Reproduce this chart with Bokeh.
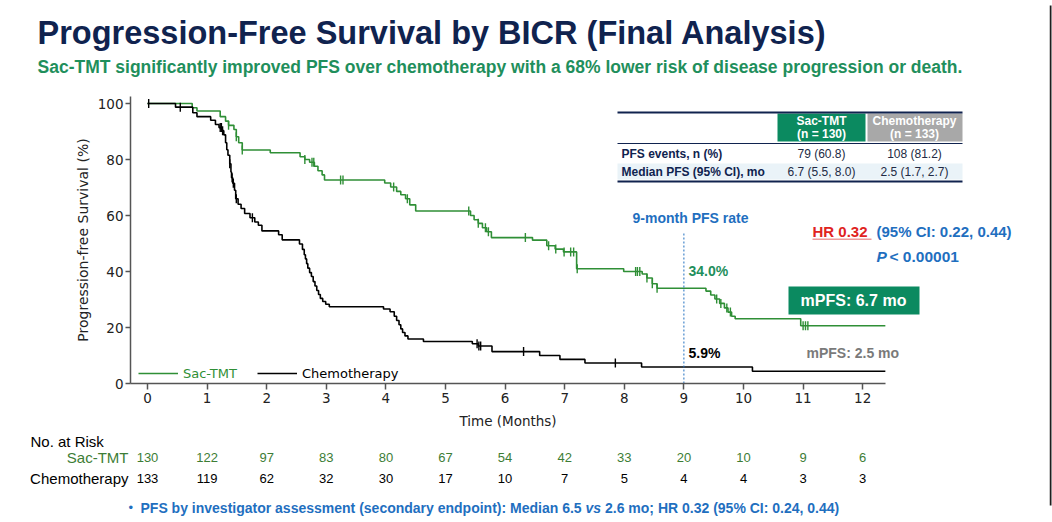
import numpy as np
from bokeh.plotting import figure
from bokeh.layouts import column, row
from bokeh.models import (Label, BoxAnnotation, Legend, LegendItem, Range1d, FixedTicker)
from bokeh.embed import file_html
from bokeh.resources import INLINE
from bokeh.core.properties import value

# ---------------- data ----------------
sac_t = [0.0, 0.75, 0.83, 1.22, 1.31, 1.36, 1.45, 1.49, 1.53, 1.59, 2.06, 2.56,
         2.64, 2.72, 2.80, 2.86, 2.93, 2.97, 3.98, 4.08, 4.18, 4.25, 4.33, 4.40,
         4.50, 5.42, 5.48, 5.55, 5.62, 5.69, 5.77, 6.46, 6.70, 6.84, 6.98, 7.20,
         7.99, 8.30, 8.38, 8.47, 8.55, 9.37, 9.45, 9.52, 9.60, 9.68, 9.74, 9.80,
         9.86, 10.96]
sac_s = [100.0, 98.5, 97.3, 95.3, 93.7, 92.2, 90.7, 88.1, 86.0, 83.4, 82.4, 81.0,
         80.0, 79.0, 77.6, 76.0, 74.5, 72.7, 71.6, 70.2, 68.6, 67.4, 66.0, 63.8,
         61.6, 60.0, 58.5, 57.2, 55.6, 54.2, 52.1, 51.2, 49.2, 48.0, 47.0, 41.0,
         40.0, 39.1, 37.7, 35.6, 34.0, 33.0, 31.6, 30.2, 28.6, 27.0, 25.5, 24.0,
         23.1, 20.6]
chemo_t = [0.0, 0.47, 0.76, 0.83, 1.06, 1.14, 1.20, 1.25, 1.28, 1.31, 1.33, 1.35,
           1.38, 1.40, 1.41, 1.43, 1.46, 1.48, 1.52, 1.57, 1.63, 1.72, 1.80, 1.86,
           1.92, 2.20, 2.26, 2.55, 2.60, 2.63, 2.65, 2.67, 2.69, 2.72, 2.75, 2.78,
           2.81, 2.84, 2.87, 2.90, 2.94, 2.99, 3.05, 3.96, 4.07, 4.14, 4.18, 4.22,
           4.25, 4.28, 4.32, 4.37, 4.63, 5.45, 5.55, 5.78, 6.58, 6.92, 7.34, 8.29,
           10.15]
chemo_s = [100.0, 98.7, 96.7, 95.3, 94.0, 92.5, 91.4, 90.3, 88.8, 86.0, 83.5, 81.5,
           78.5, 75.5, 73.5, 71.5, 69.0, 66.0, 64.0, 62.5, 60.7, 59.2, 57.7, 56.5,
           54.5, 53.1, 51.3, 49.8, 47.9, 46.0, 44.5, 42.8, 41.2, 39.6, 38.2, 36.4,
           34.8, 33.2, 31.8, 30.4, 29.3, 28.3, 27.4, 26.6, 25.6, 24.0, 22.5, 21.0,
           19.5, 18.2, 17.0, 15.9, 15.0, 14.2, 13.4, 11.4, 10.0, 8.6, 7.3, 5.9,
           4.4]
follow_up_end = 12.38

sac_censor = [1.36, 1.49, 1.59, 2.64, 2.76, 2.79, 3.24, 3.28, 4.13, 4.36, 5.39,
              5.55, 5.67, 5.72, 6.34, 6.73, 6.85, 6.99, 7.10, 7.15, 7.21, 8.19,
              8.22, 8.26, 8.38, 8.47, 8.55, 9.55, 9.62, 9.72, 9.78, 11.00, 11.04,
              11.08]
chemo_censor = [0.02, 0.55, 1.22, 1.24, 1.26, 1.38, 1.42, 1.44, 1.49, 1.76, 5.53,
                5.56, 5.59, 6.31, 7.85]

months = list(range(13))
risk_sac = [130, 122, 97, 83, 80, 67, 54, 42, 33, 20, 10, 9, 6]
risk_chemo = [133, 119, 62, 32, 30, 17, 10, 7, 5, 4, 4, 3, 3]
y_ticks = [0, 20, 40, 60, 80, 100]

landmark_month = 9
landmark_top = 53.9
landmark_sac = "34.0%"
landmark_chemo = "5.9%"

table_rows = ["PFS events, n (%)", "Median PFS (95% CI), mo"]
table_sac = ["79 (60.8)", "6.7 (5.5, 8.0)"]
table_chemo = ["108 (81.2)", "2.5 (1.7, 2.7)"]

# ---------------- colours ----------------
GREEN = "#2f8f36"
GREEN_TXT = "#1f8f5c"
TEAL = "#0b8a60"
NAVY = "#10234f"
BLUE = "#1f6fbf"
RED = "#e0231e"
RISK_GREEN = "#3d7d35"
EDGE = "#1e1e1e"

W, H = 1052, 522
EDGE_W = 3            # thin slide-edge strip at the right
WM = W - EDGE_W       # width of the main column
# layout geometry (canvas px)
TOP_H = 96            # header band
L = 130               # left edge of plot frame
B = 383               # bottom edge of plot frame
AX_H = 28             # tick band below the frame
MAIN_H = B - TOP_H + AX_H
BOT_TOP = TOP_H + MAIN_H
BOT_H = H - BOT_TOP
X0_PX = 147.0         # canvas x of month 0
PX_PER_MONTH = 59.6
Y_TOP = 102.5


def screen_box(fig, x0, x1, y0, y1, color, fig_left=0, fig_bottom=0):
    fig.add_layout(BoxAnnotation(left=x0 - fig_left, right=x1 - fig_left,
                                 top=fig_bottom - y0, bottom=fig_bottom - y1,
                                 left_units="screen", right_units="screen",
                                 top_units="screen", bottom_units="screen",
                                 fill_color=color, fill_alpha=1, line_color=None,
                                 level="annotation"))


# ================= header figure =================
top = figure(width=WM, height=TOP_H, x_range=Range1d(0, WM), y_range=Range1d(TOP_H, 0),
             min_border=0, output_backend="svg", toolbar_location=None,
             frame_align=False)
top.axis.visible = False
top.grid.visible = False
top.outline_line_color = None


def tlab(px, py, text, size, color, style="bold", align="left",
         font="Liberation Sans"):
    top.add_layout(Label(x=px, y=py, text=text, text_font=font,
                         text_font_size=size, text_color=color,
                         text_font_style=style, text_align=align,
                         text_baseline="middle"))


tlab(37, 32, "Progression-Free Survival by BICR (Final Analysis)", "32.5px", NAVY)
tlab(37, 66, "Sac-TMT significantly improved PFS over chemotherapy with a 68% "
     "lower risk of disease progression or death.", "17.5px", GREEN_TXT)

# ================= main KM figure =================
x_start = (L - X0_PX) / PX_PER_MONTH
x_stop = (WM - X0_PX) / PX_PER_MONTH
p = figure(width=WM, height=MAIN_H, x_range=Range1d(x_start, x_stop),
           y_range=Range1d(0, Y_TOP), min_border_left=L, min_border_right=0,
           min_border_top=0, min_border_bottom=AX_H, output_backend="svg",
           toolbar_location=None, frame_align=False)
p.outline_line_color = None
p.xgrid.visible = False
p.ygrid.visible = False

for ax in (p.xaxis, p.yaxis):
    ax.axis_line_color = "#555555"
    ax.axis_line_width = 1.5
    ax.major_tick_line_color = "#555555"
    ax.major_tick_line_width = 1.5
    ax.minor_tick_line_color = None
    ax.major_tick_in = 0
    ax.major_label_text_font = "DejaVu Sans"
    ax.major_label_text_font_size = "13.5px"
    ax.major_label_text_color = "#222222"
    ax.axis_label_text_font = "DejaVu Sans"
    ax.axis_label_text_font_size = "14px"
    ax.axis_label_text_color = "#222222"
    ax.axis_label_text_font_style = "normal"

p.xaxis.bounds = (x_start, follow_up_end)
p.xaxis.ticker = FixedTicker(ticks=months)
p.yaxis.ticker = FixedTicker(ticks=y_ticks)
p.xaxis.major_tick_out = 6
p.yaxis.major_tick_out = 5
p.xaxis.major_label_standoff = 3
p.yaxis.major_label_standoff = 2
p.yaxis.axis_label = "Progression-free Survival (%)"
p.yaxis.axis_label_standoff = 4

r_sac = p.step(x=sac_t + [follow_up_end], y=sac_s + [sac_s[-1]], mode="after",
               line_color=GREEN, line_width=1.6)
r_chemo = p.step(x=chemo_t + [follow_up_end], y=chemo_s + [chemo_s[-1]], mode="after",
                 line_color="black", line_width=1.6)


def surv_at(times, surv, ts):
    idx = np.searchsorted(np.array(times), np.array(ts), side="right") - 1
    return list(np.array(surv)[idx])


p.scatter(x=sac_censor, y=surv_at(sac_t, sac_s, sac_censor), marker="dash",
          angle=np.pi / 2, size=9, line_color=GREEN, line_width=1.4)
p.scatter(x=chemo_censor, y=surv_at(chemo_t, chemo_s, chemo_censor), marker="dash",
          angle=np.pi / 2, size=9, line_color="black", line_width=1.4)

p.segment(x0=[landmark_month], y0=[0], x1=[landmark_month], y1=[landmark_top],
          line_color=BLUE, line_dash="2 2", line_width=1)

leg_common = dict(glyph_width=40, glyph_height=20, label_height=20, padding=0,
                  margin=0, border_line_color=None, background_fill_alpha=0,
                  label_standoff=5, label_text_font="DejaVu Sans",
                  label_text_font_size="13px")
p.add_layout(Legend(items=[LegendItem(label="Sac-TMT", renderers=[r_sac])],
                    location=(8, 0), label_text_color=GREEN, **leg_common))
p.add_layout(Legend(items=[LegendItem(label="Chemotherapy", renderers=[r_chemo])],
                    location=(127, 0), label_text_color="black", **leg_common))


def lab(px, py, text, size, color, style="bold", align="left",
        font="Liberation Sans"):
    p.add_layout(Label(x=px - L, y=B - py, x_units="screen", y_units="screen",
                       text=text, text_font=font, text_font_size=size,
                       text_color=color, text_font_style=style, text_align=align,
                       text_baseline="middle"))


def box(x0, x1, y0, y1, color):
    screen_box(p, x0, x1, y0, y1, color, L, B)


# summary table
box(617, 962, 163, 179, "#eaf3f8")
box(777, 865, 113, 141, TEAL)
box(867, 962, 113, 141, "#a8a8a8")
box(617, 962, 111, 113, NAVY)
box(617, 962, 142.5, 143.5, NAVY)
box(617, 962, 180, 182, NAVY)
lab(821, 120, "Sac-TMT", "12px", "white", align="center")
lab(821, 133, "(n = 130)", "12px", "white", align="center")
lab(914, 120, "Chemotherapy", "12px", "white", align="center")
lab(914, 133, "(n = 133)", "12px", "white", align="center")
for i, yy in enumerate([153, 171]):
    lab(621, yy, table_rows[i], "12px", NAVY)
    lab(821, yy, table_sac[i], "12px", "#222a44", style="normal", align="center")
    lab(914, yy, table_chemo[i], "12px", "#222a44", style="normal", align="center")

lab(690, 217, "9-month PFS rate", "14px", BLUE, align="center")
lab(688, 270, landmark_sac, "14px", GREEN_TXT)
lab(688, 352, landmark_chemo, "14px", "black")

lab(812, 231, "HR 0.32", "15px", RED)
box(812, 871, 238, 239.5, "#ee9a9a")
lab(876, 231, "(95% CI: 0.22, 0.44)", "15px", BLUE)
lab(876, 256, "P", "15.5px", BLUE, style="bold italic")
lab(889, 256, "< 0.00001", "15.5px", BLUE)

box(788, 919, 286, 314, TEAL)
lab(853, 300, "mPFS: 6.7 mo", "16px", "white", align="center")
lab(806, 352, "mPFS: 2.5 mo", "14px", "#7a7a7a")

# ================= axis title, risk table, footnote =================
bot = figure(width=WM, height=BOT_H,
             x_range=Range1d(-X0_PX / PX_PER_MONTH, (WM - X0_PX) / PX_PER_MONTH),
             y_range=Range1d(BOT_H, 0), min_border=0, output_backend="svg",
             toolbar_location=None, frame_align=False)
bot.axis.visible = False
bot.grid.visible = False
bot.outline_line_color = None


def blab(px, py, text, size, color, style="normal", align="left",
         font="Liberation Sans"):
    bot.add_layout(Label(x=px, y=BOT_H - (py - BOT_TOP), x_units="screen",
                         y_units="screen", text=text, text_font=font,
                         text_font_size=size, text_color=color,
                         text_font_style=style, text_align=align,
                         text_baseline="middle"))


blab((L + 885) / 2, 420, "Time (Months)", "13.5px", "#222222", align="center",
     font="DejaVu Sans")
blab(30, 441, "No. at Risk", "15px", "black")
blab(128, 457, "Sac-TMT", "15px", RISK_GREEN, align="right")
blab(128, 478, "Chemotherapy", "15px", "black", align="right")
bot.text(x=months, y=[457 - BOT_TOP] * len(months), text=[str(v) for v in risk_sac],
         text_align="center", text_baseline="middle", text_font=value("Liberation Sans"),
         text_font_size="13px", text_color=RISK_GREEN)
bot.text(x=months, y=[478 - BOT_TOP] * len(months), text=[str(v) for v in risk_chemo],
         text_align="center", text_baseline="middle", text_font=value("Liberation Sans"),
         text_font_size="13px", text_color="black")

blab(128, 507, "\u2022", "13px", BLUE)
blab(140, 507, "PFS by investigator assessment (secondary endpoint): Median 6.5",
     "14px", BLUE, style="bold")
blab(585, 507, "vs", "14px", BLUE, style="bold italic")
blab(604.5, 507, "2.6 mo; HR 0.32 (95% CI: 0.24, 0.44)", "14px", BLUE, style="bold")

# ================= slide edge strip =================
edge = figure(width=EDGE_W, height=H, x_range=Range1d(0, EDGE_W),
              y_range=Range1d(0, H), min_border=0, output_backend="svg",
              toolbar_location=None, frame_align=False)
edge.axis.visible = False
edge.grid.visible = False
edge.outline_line_color = None
screen_box(edge, 0, 2, 5, 505, EDGE, 0, H)

layout = row(column(top, p, bot, spacing=0), edge, spacing=0)
open("out.html", "w").write(file_html(layout, INLINE))
